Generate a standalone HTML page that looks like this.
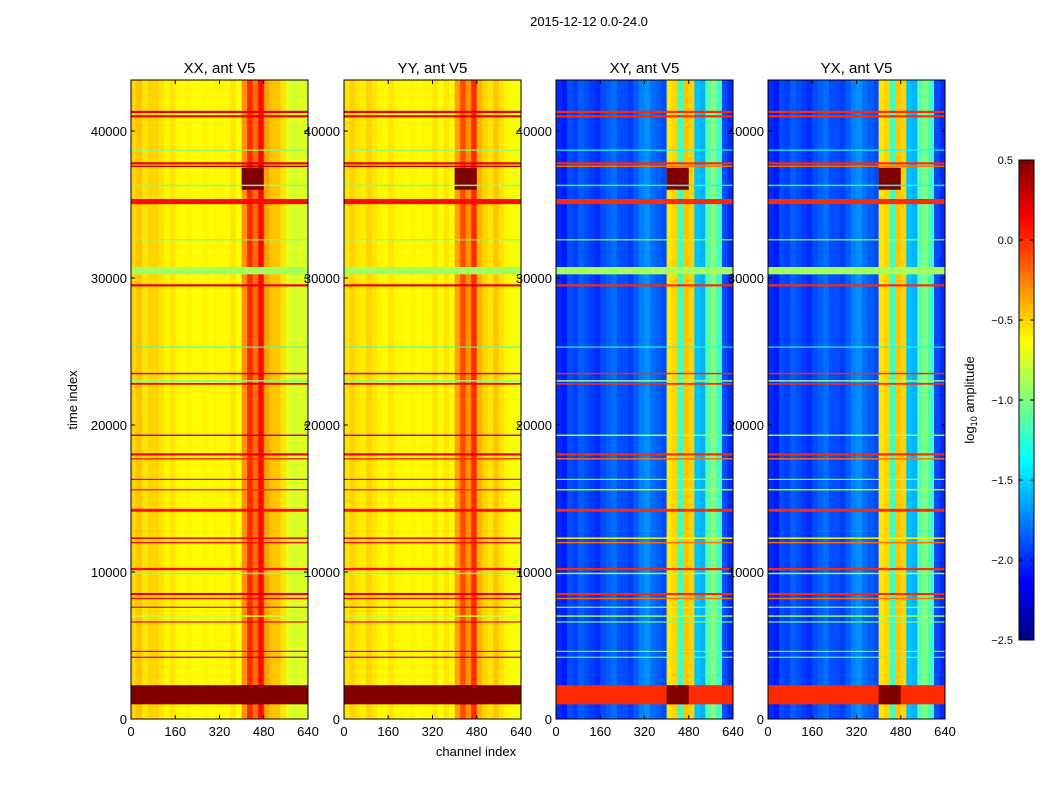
<!DOCTYPE html>
<html><head><meta charset="utf-8">
<style>
body{margin:0;background:#fff;}
svg{display:block;font-family:"Liberation Sans","DejaVu Sans",sans-serif;}
</style></head>
<body>
<svg id="chart" width="1050" height="800" xmlns="http://www.w3.org/2000/svg">
<text x="589" y="26" font-size="13" text-anchor="middle">2015-12-12 0.0-24.0</text>
<text x="0" y="0" font-size="13" text-anchor="middle" transform="translate(77,400) rotate(-90)">time index</text>
<text x="476" y="756" font-size="13" text-anchor="middle">channel index</text>
<text x="0" y="0" font-size="13" text-anchor="middle" transform="translate(974,400) rotate(-90)">log<tspan font-size="9" dy="3">10</tspan><tspan dy="-3"> amplitude</tspan></text>
<g id="panels"></g>
<g id="cbar"></g>
</svg>
<script>
// ---- data ----
const panelTitles = ["XX, ant V5","YY, ant V5","XY, ant V5","YX, ant V5"];
const binWidth = 20; // channels per bin
const xxCols = [-0.5,-0.45,-0.55,-0.5,-0.5,-0.55,-0.6,-0.55,-0.6,-0.62,-0.6,-0.62,-0.62,-0.6,-0.62,-0.6,-0.6,-0.62,-0.55,-0.62,-0.3,0.0,-0.2,0.1,-0.35,-0.45,-0.45,-0.55,-0.7,-0.75,-0.72,-0.75];
const yyCols = [-0.55,-0.5,-0.55,-0.58,-0.5,-0.55,-0.6,-0.6,-0.55,-0.6,-0.6,-0.62,-0.6,-0.62,-0.6,-0.6,-0.55,-0.62,-0.55,-0.62,-0.35,-0.1,-0.3,0.0,-0.4,-0.5,-0.55,-0.45,-0.55,-0.6,-0.65,-0.65];
const xyCols = [-2.0,-2.05,-1.9,-1.95,-1.85,-1.9,-1.95,-2.0,-1.9,-1.85,-1.8,-1.9,-1.9,-1.95,-1.85,-1.75,-1.7,-1.8,-1.85,-1.9,-0.55,-0.5,-1.2,-0.45,-0.5,-1.55,-1.6,-1.1,-1.0,-1.2,-1.9,-2.0];
const yxCols = [-2.0,-2.05,-1.9,-1.95,-1.85,-1.9,-1.95,-2.0,-1.9,-1.85,-1.8,-1.9,-1.9,-1.95,-1.85,-1.75,-1.7,-1.8,-1.85,-1.9,-0.55,-0.5,-1.2,-0.45,-0.5,-1.55,-1.6,-1.1,-1.0,-1.2,-1.9,-2.0];
const lineTimes = [41300,41000,38700,37800,37600,36300,35200,32600,30500,29500,25300,23500,23000,22800,19300,18000,17700,16300,15600,14200,12300,12000,10200,9900,8500,8200,7600,7000,6600,4600,4200];
const lineThick = [150,150,80,150,100,100,350,80,500,150,80,100,100,120,100,150,100,80,100,200,100,100,150,100,150,100,80,100,80,80,80];
const xxLineVals = [0.2,0.2,-1.0,0.2,0.3,-1.0,0.1,-1.0,-0.9,0.2,-1.2,0.2,-1.0,0.2,0.3,0.2,0.0,0.2,0.0,0.1,0.2,0.1,0.1,-1.0,0.2,0.1,0.2,-0.8,0.2,0.2,0.3];
const xyLineVals = [0.0,0.0,-1.3,0.0,-0.2,-1.3,0.0,-0.9,-0.9,0.0,-1.3,0.0,-0.9,0.0,-0.9,0.0,-0.2,-0.9,-0.8,0.0,-0.6,-0.2,0.0,-0.9,0.0,-0.2,-0.9,-0.9,-1.0,-1.0,-1.1];
const bandTimes = [[1000,2300],[36000,37500]];
const xxBandVals = [0.5,0.5];
const xyBandVals = [0.0,0.5];
const xTicks = [0,160,320,480,640];
const yTicks = [0,10000,20000,30000,40000];
const cbTicks = [0.5,0.0,-0.5,-1.0,-1.5,-2.0,-2.5];

// ---- layout ----
const panelX = [131,344,556,768], panelW = 177, plotTop = 80, plotBottom = 719;
const xMax = 640, tMax = 43470, vmin = -2.5, vmax = 0.5;
function jet(v){
  let t = (v - vmin)/(vmax - vmin); t = Math.max(0,Math.min(1,t));
  const f = c => Math.round(255*Math.max(0,Math.min(1,1.5-Math.abs(4*t-c))));
  return `rgb(${f(3)},${f(2)},${f(1)})`;
}
const NS = "http://www.w3.org/2000/svg";
function el(tag, attrs, parent){ const e=document.createElementNS(NS,tag); for(const k in attrs) e.setAttribute(k,attrs[k]); parent.appendChild(e); return e; }
const panelsG = document.getElementById('panels');
const colsData = [xxCols,yyCols,xyCols,yxCols];
const lineData = [xxLineVals,xxLineVals,xyLineVals,xyLineVals];
const bandData = [xxBandVals,xxBandVals,xyBandVals,xyBandVals];

colsData.forEach((cols,p)=>{
  const x0 = panelX[p];
  const xs = c => x0 + c/xMax*panelW;
  const ys = t => plotBottom - t/tMax*(plotBottom-plotTop);
  const g = el('g',{},panelsG);
  
  
  cols.forEach((v,i)=>{
    const r = el('rect',{x:xs(i*binWidth),y:plotTop,width:xs((i+1)*binWidth)-xs(i*binWidth)+0.5,height:plotBottom-plotTop,fill:jet(v)},g);
    
    
  });
  bandTimes.forEach((b,i)=>{
    const bv = bandData[p][i];
    if(i===0){
      const r = el('rect',{x:x0,y:ys(b[1]),width:panelW,height:ys(b[0])-ys(b[1]),fill:jet(bv)},g);
      
      
    }
    const r2 = el('rect',{x:xs(400),y:ys(b[1]),width:xs(480)-xs(400),height:ys(b[0])-ys(b[1]),fill:jet(0.5)},g);
    
    
  });
  lineTimes.forEach((t,i)=>{
    const h = Math.max(1, lineThick[i]/tMax*(plotBottom-plotTop));
    const r = el('rect',{x:x0,y:ys(t)-h/2,width:panelW,height:h,fill:jet(lineData[p][i])},g);
    
    
  });
  const fr = el('rect',{x:x0,y:plotTop,width:panelW,height:plotBottom-plotTop,fill:'none',stroke:'#000','stroke-width':1},g);
  
  
  const tt = el('text',{x:x0+panelW/2,y:73,'font-size':15,'text-anchor':'middle'},g);
  tt.textContent = panelTitles[p];
  
  
  xTicks.forEach(v=>{
    el('line',{x1:xs(v),x2:xs(v),y1:plotBottom,y2:plotBottom-4,stroke:'#000'},g);
    el('line',{x1:xs(v),x2:xs(v),y1:plotTop,y2:plotTop+4,stroke:'#000'},g);
    const t = el('text',{x:xs(v),y:plotBottom+17,'font-size':13,'text-anchor':'middle'},g);
    t.textContent = v;
    
    
  });
  yTicks.forEach(v=>{
    el('line',{x1:x0,x2:x0+4,y1:ys(v),y2:ys(v),stroke:'#000'},g);
    el('line',{x1:x0+panelW,x2:x0+panelW-4,y1:ys(v),y2:ys(v),stroke:'#000'},g);
    const t = el('text',{x:x0-4,y:ys(v)+5,'font-size':13,'text-anchor':'end'},g);
    t.textContent = v;
    
    
  });
});

// colorbar
const cb = document.getElementById('cbar');
const cbX = 1019, cbW = 15, cbTop = 160, cbBot = 640;
const cy = v => cbBot - (v - vmin)/(vmax - vmin)*(cbBot-cbTop);
for(let i=0;i<120;i++){
  const v0 = vmin + i*(vmax-vmin)/120;
  el('rect',{x:cbX,y:cy(v0+(vmax-vmin)/120),width:cbW,height:(cbBot-cbTop)/120+0.5,fill:jet(v0+(vmax-vmin)/240)},cb);
}
el('rect',{x:cbX,y:cbTop,width:cbW,height:cbBot-cbTop,fill:'none',stroke:'#000'},cb);
cbTicks.forEach(v=>{
  el('line',{x1:cbX,x2:cbX+4,y1:cy(v),y2:cy(v),stroke:'#000'},cb);
  el('line',{x1:cbX+cbW,x2:cbX+cbW-4,y1:cy(v),y2:cy(v),stroke:'#000'},cb);
  const t = el('text',{x:1013,y:cy(v)+4,'font-size':11,'text-anchor':'end'},cb);
  t.textContent = v.toFixed(1).replace('-','\u2212');
  
  
});
</script>
</body></html>
